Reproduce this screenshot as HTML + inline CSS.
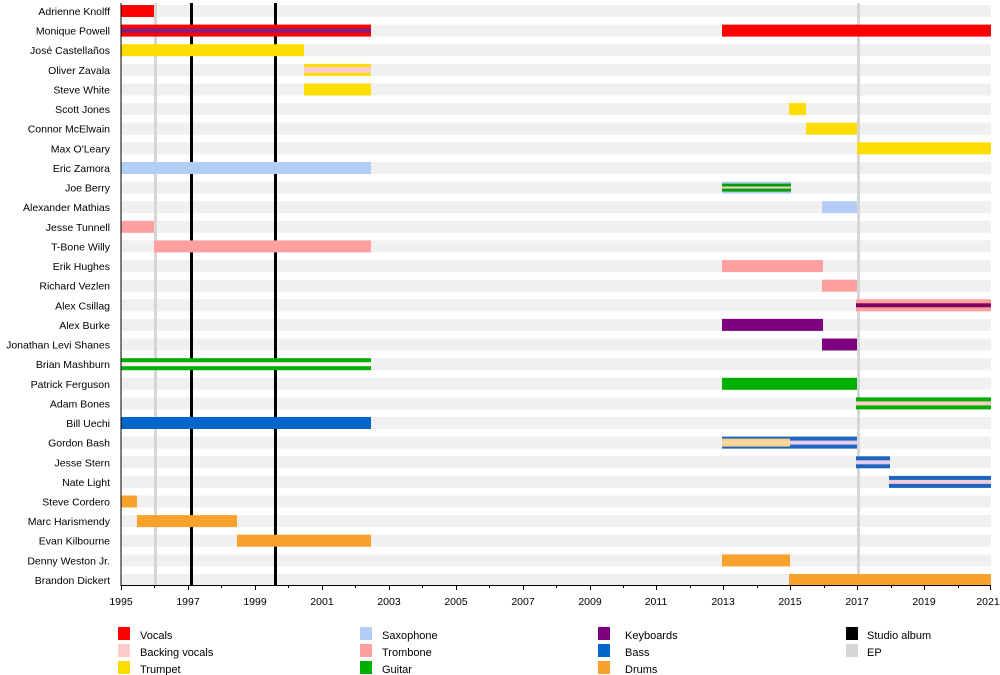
<!DOCTYPE html>
<html><head><meta charset="utf-8"><style>
html,body{margin:0;padding:0;background:#fff;}
svg{display:block;font-family:"Liberation Sans",sans-serif;font-size:11px;}
</style></head><body>
<svg width="1000" height="675" xmlns="http://www.w3.org/2000/svg">
<g fill="#f0f0f0">
<rect x="121" y="5" width="870" height="12"/><rect x="121" y="24.6" width="870" height="12"/><rect x="121" y="44.2" width="870" height="12"/><rect x="121" y="63.9" width="870" height="12"/><rect x="121" y="83.5" width="870" height="12"/><rect x="121" y="103.1" width="870" height="12"/><rect x="121" y="122.7" width="870" height="12"/><rect x="121" y="142.3" width="870" height="12"/><rect x="121" y="162" width="870" height="12"/><rect x="121" y="181.6" width="870" height="12"/><rect x="121" y="201.2" width="870" height="12"/><rect x="121" y="220.8" width="870" height="12"/><rect x="121" y="240.4" width="870" height="12"/><rect x="121" y="260.1" width="870" height="12"/><rect x="121" y="279.7" width="870" height="12"/><rect x="121" y="299.3" width="870" height="12"/><rect x="121" y="318.9" width="870" height="12"/><rect x="121" y="338.5" width="870" height="12"/><rect x="121" y="358.2" width="870" height="12"/><rect x="121" y="377.8" width="870" height="12"/><rect x="121" y="397.4" width="870" height="12"/><rect x="121" y="417" width="870" height="12"/><rect x="121" y="436.6" width="870" height="12"/><rect x="121" y="456.3" width="870" height="12"/><rect x="121" y="475.9" width="870" height="12"/><rect x="121" y="495.5" width="870" height="12"/><rect x="121" y="515.1" width="870" height="12"/><rect x="121" y="534.7" width="870" height="12"/><rect x="121" y="554.4" width="870" height="12"/><rect x="121" y="574" width="870" height="12"/>
</g>
<rect x="154" y="3" width="3" height="582" fill="#d6d6d6"/>
<rect x="857" y="3" width="3" height="582" fill="#d6d6d6"/>
<rect x="190" y="3" width="3" height="582" fill="#000"/>
<rect x="274" y="3" width="3" height="582" fill="#000"/>
<g>
<rect x="121" y="5" width="33" height="12" fill="#ff0000"/>
<rect x="121" y="24.6" width="250" height="12" fill="#ff0000"/><rect x="121" y="28.6" width="250" height="4" fill="#7f1f7f"/>
<rect x="722" y="24.6" width="269" height="12" fill="#ff0000"/>
<rect x="121" y="44.2" width="183" height="12" fill="#ffdd00"/>
<rect x="304" y="63.9" width="67" height="12" fill="#ffdd00"/><rect x="304" y="66.9" width="67" height="6" fill="#ffcccc"/>
<rect x="304" y="83.5" width="67" height="12" fill="#ffdd00"/>
<rect x="789" y="103.1" width="17" height="12" fill="#ffdd00"/>
<rect x="806" y="122.7" width="51" height="12" fill="#ffdd00"/>
<rect x="857" y="142.3" width="134" height="12" fill="#ffdd00"/>
<rect x="121" y="162" width="250" height="12" fill="#b3cdf8"/>
<rect x="722" y="181.6" width="69" height="12" fill="#b3cdf8"/><rect x="722" y="183.6" width="69" height="3" fill="#00a000"/><rect x="722" y="186.6" width="69" height="2" fill="#ffcccc"/><rect x="722" y="188.6" width="69" height="3" fill="#00a000"/>
<rect x="822" y="201.2" width="35" height="12" fill="#b3cdf8"/>
<rect x="121" y="220.8" width="33" height="12" fill="#ff9f9f"/>
<rect x="154" y="240.4" width="217" height="12" fill="#ff9f9f"/>
<rect x="722" y="260.1" width="101" height="12" fill="#ff9f9f"/>
<rect x="822" y="279.7" width="35" height="12" fill="#ff9f9f"/>
<rect x="856" y="299.3" width="135" height="12" fill="#ff9f9f"/><rect x="856" y="303.3" width="135" height="4" fill="#7f005f"/>
<rect x="722" y="318.9" width="101" height="12" fill="#7f007f"/>
<rect x="822" y="338.5" width="35" height="12" fill="#7f007f"/>
<rect x="121" y="358.2" width="250" height="12" fill="#00b000"/><rect x="121" y="362.2" width="250" height="4" fill="#ffeeee"/>
<rect x="722" y="377.8" width="135" height="12" fill="#00b000"/>
<rect x="856" y="397.4" width="135" height="12" fill="#00b000"/><rect x="856" y="401.4" width="135" height="4" fill="#ffcccc"/>
<rect x="121" y="417" width="250" height="12" fill="#0066cc"/>
<rect x="722" y="436.6" width="135" height="12" fill="#1a66c0"/><rect x="722" y="440.6" width="135" height="4" fill="#e8ccee"/><rect x="722" y="438.6" width="68" height="8" fill="#ffd080"/><rect x="722" y="440.6" width="68" height="4" fill="#f8d8a0"/>
<rect x="856" y="456.3" width="34" height="12" fill="#1a66c0"/><rect x="856" y="460.3" width="34" height="4" fill="#e8ccee"/>
<rect x="889" y="475.9" width="102" height="12" fill="#1a66c0"/><rect x="889" y="479.9" width="102" height="4" fill="#f0ccdd"/>
<rect x="121" y="495.5" width="16" height="12" fill="#f9a12d"/>
<rect x="137" y="515.1" width="100" height="12" fill="#f9a12d"/>
<rect x="237" y="534.7" width="134" height="12" fill="#f9a12d"/>
<rect x="722" y="554.4" width="68" height="12" fill="#f9a12d"/>
<rect x="789" y="574" width="202" height="12" fill="#f9a12d"/>
</g>
<g text-anchor="end" fill="#000" font-size="10.5">
<text x="110" y="15">Adrienne Knolff</text><text x="110" y="34.6">Monique Powell</text><text x="110" y="54.2">José Castellaños</text><text x="110" y="73.9">Oliver Zavala</text><text x="110" y="93.5">Steve White</text><text x="110" y="113.1">Scott Jones</text><text x="110" y="132.7">Connor McElwain</text><text x="110" y="152.3">Max O'Leary</text><text x="110" y="172">Eric Zamora</text><text x="110" y="191.6">Joe Berry</text><text x="110" y="211.2">Alexander Mathias</text><text x="110" y="230.8">Jesse Tunnell</text><text x="110" y="250.4">T-Bone Willy</text><text x="110" y="270.1">Erik Hughes</text><text x="110" y="289.7">Richard Vezlen</text><text x="110" y="309.3">Alex Csillag</text><text x="110" y="328.9">Alex Burke</text><text x="110" y="348.5">Jonathan Levi Shanes</text><text x="110" y="368.2">Brian Mashburn</text><text x="110" y="387.8">Patrick Ferguson</text><text x="110" y="407.4">Adam Bones</text><text x="110" y="427">Bill Uechi</text><text x="110" y="446.6">Gordon Bash</text><text x="110" y="466.3">Jesse Stern</text><text x="110" y="485.9">Nate Light</text><text x="110" y="505.5">Steve Cordero</text><text x="110" y="525.1">Marc Harismendy</text><text x="110" y="544.7">Evan Kilbourne</text><text x="110" y="564.4">Denny Weston Jr.</text><text x="110" y="584">Brandon Dickert</text>
</g>
<line x1="121" y1="3" x2="121" y2="586" stroke="#000" stroke-width="1"/>
<line x1="121" y1="585.5" x2="991" y2="585.5" stroke="#000" stroke-width="1"/>
<g stroke="#000" stroke-width="1">
<path d="M121.5 586v4M154.5 586v2M188.5 586v4M221.5 586v2M255.5 586v4M288.5 586v2M322.5 586v4M355.5 586v2M389.5 586v4M422.5 586v2M456.5 586v4M489.5 586v2M523.5 586v4M556.5 586v2M590.5 586v4M623.5 586v2M656.5 586v4M690.5 586v2M723.5 586v4M757.5 586v2M790.5 586v4M824.5 586v2M857.5 586v4M891.5 586v2M924.5 586v4M958.5 586v2M990.5 586v4"/>
</g>
<g text-anchor="middle" font-size="10.5">
<text x="121" y="605">1995</text><text x="188" y="605">1997</text><text x="255" y="605">1999</text><text x="322" y="605">2001</text><text x="389" y="605">2003</text><text x="456" y="605">2005</text><text x="523" y="605">2007</text><text x="590" y="605">2009</text><text x="656" y="605">2011</text><text x="723" y="605">2013</text><text x="790" y="605">2015</text><text x="857" y="605">2017</text><text x="924" y="605">2019</text><text x="988" y="605">2021</text>
</g>
<g>
<rect x="118" y="627" width="12" height="13" fill="#ff0000"/><text x="140" y="639">Vocals</text>
<rect x="118" y="644" width="12" height="13" fill="#ffcccc"/><text x="140" y="656">Backing vocals</text>
<rect x="118" y="661" width="12" height="13" fill="#ffdd00"/><text x="140" y="673">Trumpet</text>
<rect x="360" y="627" width="12" height="13" fill="#b3cdf8"/><text x="382" y="639">Saxophone</text>
<rect x="360" y="644" width="12" height="13" fill="#ff9f9f"/><text x="382" y="656">Trombone</text>
<rect x="360" y="661" width="12" height="13" fill="#00b000"/><text x="382" y="673">Guitar</text>
<rect x="598" y="627" width="12" height="13" fill="#7f007f"/><text x="625" y="639">Keyboards</text>
<rect x="598" y="644" width="12" height="13" fill="#0066cc"/><text x="625" y="656">Bass</text>
<rect x="598" y="661" width="12" height="13" fill="#f9a12d"/><text x="625" y="673">Drums</text>
<rect x="846" y="627" width="12" height="13" fill="#000"/><text x="867" y="639">Studio album</text>
<rect x="846" y="644" width="12" height="13" fill="#d6d6d6"/><text x="867" y="656">EP</text>
</g>
</svg>
</body></html>
